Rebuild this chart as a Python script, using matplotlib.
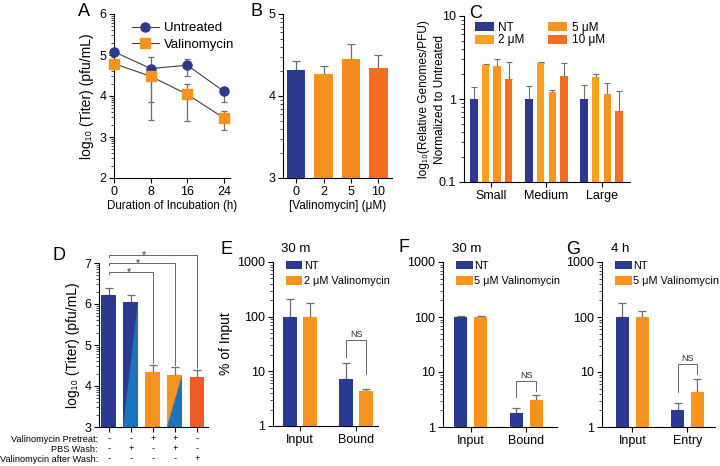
import numpy as np
import matplotlib
matplotlib.use("Agg")
import matplotlib.pyplot as plt
from matplotlib.patches import Polygon
from matplotlib.lines import Line2D
from matplotlib.ticker import FixedLocator, FuncFormatter, LogLocator, NullFormatter

plt.rcParams['font.family'] = ['Liberation Sans', 'DejaVu Sans']
plt.rcParams['axes.linewidth'] = 0.8
plt.rcParams['xtick.major.width'] = 0.8
plt.rcParams['ytick.major.width'] = 0.8
plt.rcParams['xtick.direction'] = 'out'
plt.rcParams['ytick.direction'] = 'out'

# ---------------- data ----------------
# Panel A
time_h = [0, 8, 16, 24]
untreated = [5.08, 4.67, 4.75, 4.11]
untreated_err_lo = [0.05, 0.82, 0.25, 0.26]
untreated_err_hi = [0.05, 0.29, 0.15, 0.12]
valino = [4.79, 4.48, 4.04, 3.46]
valino_err_lo = [0.05, 1.06, 0.64, 0.29]
valino_err_hi = [0.05, 0.0, 0.25, 0.17]

# Panel B
b_labels = ['0', '2', '5', '10']
b_titer = [4.32, 4.27, 4.45, 4.34]
b_err = [0.11, 0.09, 0.18, 0.16]

# Panel C
c_groups = ['Small', 'Medium', 'Large']
c_series = ['NT', '2 \u03bcM', '5 \u03bcM', '10 \u03bcM']
c_nt = [1.0, 1.0, 1.0]
c_2 = [2.60, 2.73, 1.84]
c_5 = [2.48, 1.20, 1.16]
c_10 = [1.75, 1.91, 0.71]
c_nt_err = [0.41, 0.43, 0.48]
c_2_err = [0.05, 0.03, 0.16]
c_5_err = [0.57, 0.09, 0.39]
c_10_err = [1.05, 0.79, 0.54]

# Panel D
d_titer = [6.21, 6.05, 4.33, 4.28, 4.23]
d_err = [0.17, 0.16, 0.18, 0.19, 0.17]
d_rows = ['Valinomycin Pretreat:', 'PBS Wash:', 'Valinomycin after Wash:']
d_pretreat = ['-', '-', '+', '+', '-']
d_pbs = ['-', '+', '-', '+', '-']
d_after = ['-', '-', '-', '-', '+']
d_sig_targets = [2, 3, 4]
d_sig_heights = [6.78, 7.0, 7.2]

# Panel E
e_cats = ['Input', 'Bound']
e_nt = [100, 7.2]
e_nt_err = [112, 6.8]
e_val = [100, 4.3]
e_val_err = [77, 0.4]

# Panel F
f_cats = ['Input', 'Bound']
f_nt = [100, 1.8]
f_nt_err = [4, 0.4]
f_val = [100, 3.05]
f_val_err = [4, 0.7]

# Panel G
g_cats = ['Input', 'Entry']
g_nt = [100, 2.07]
g_nt_err = [80, 0.68]
g_val = [100, 4.3]
g_val_err = [30, 3.3]

NAVY = '#2B3990'
ORANGE = '#F7941D'
ORANGE5 = '#F68A20'
ORANGE10 = '#F26F22'
YORANGE = '#FAA21B'
LBLUE = '#1C75BC'
RED = '#F15A29'
ERRC = '#6D6E71'

W, H = 720, 466
fig = plt.figure(figsize=(W / 100, H / 100), dpi=100)


def ax_px(l, t, r, b):
    return fig.add_axes([l / W, 1 - b / H, (r - l) / W, (b - t) / H])


def style(ax):
    ax.spines['top'].set_visible(False)
    ax.spines['right'].set_visible(False)
    ax.tick_params(length=3.5, width=0.8, labelsize=9, pad=2)


def log_minor(ax, lo, hi):
    mins = [n + np.log10(k) for n in range(lo, hi) for k in range(2, 10)]
    ax.yaxis.set_minor_locator(FixedLocator(mins))
    ax.tick_params(axis='y', which='minor', length=2, width=0.5)


def panel_label(x, y, s):
    fig.text(x / W, 1 - y / H, s, fontsize=13, va='center', ha='left')


# ---------------- Panel A ----------------
axA = ax_px(114, 14, 230, 178)
style(axA)
axA.errorbar(time_h, untreated, yerr=[untreated_err_lo, untreated_err_hi], color='#404040',
             lw=0.8, ecolor=ERRC, elinewidth=0.9, capsize=2.5, capthick=0.9,
             marker='o', ms=6.5, mfc=NAVY, mec=NAVY, clip_on=False, zorder=3)
axA.errorbar(time_h, valino, yerr=[valino_err_lo, valino_err_hi], color='#404040',
             lw=0.8, ecolor=ERRC, elinewidth=0.9, capsize=2.5, capthick=0.9,
             marker='s', ms=6.5, mfc=ORANGE, mec=ORANGE, clip_on=False, zorder=3)
axA.set_xlim(0, 25.3)
axA.set_ylim(2, 6)
axA.set_xticks(time_h)
axA.set_yticks([2, 3, 4, 5, 6])
log_minor(axA, 2, 6)
axA.set_xlabel('Duration of Incubation (h)', fontsize=8.3, labelpad=2)
axA.set_ylabel('log\u2081\u2080 (Titer) (pfu/mL)', fontsize=10, labelpad=4)
hA = [Line2D([], [], color='#404040', lw=0.8, marker='o', ms=6.5, mfc=NAVY, mec=NAVY),
      Line2D([], [], color='#404040', lw=0.8, marker='s', ms=6.5, mfc=ORANGE, mec=ORANGE)]
axA.legend(hA, ['Untreated', 'Valinomycin'], loc='upper left', bbox_to_anchor=(0.1, 0.99),
           frameon=False, fontsize=9.5, handlelength=2.0, handletextpad=0.4, labelspacing=0.3,
           borderpad=0.0)

# ---------------- Panel B ----------------
axB = ax_px(283, 14, 392, 178)
style(axB)
xb = np.arange(len(b_labels))
colsB = [NAVY, ORANGE, ORANGE5, ORANGE10]
axB.bar(xb, np.array(b_titer) - 3, bottom=3, width=0.68, color=colsB, zorder=2)
axB.errorbar(xb, b_titer, yerr=[np.zeros(4), b_err], fmt='none', ecolor=ERRC,
             elinewidth=0.9, capsize=3, capthick=0.9, zorder=1)
axB.set_xlim(-0.48, 3.5)
axB.set_ylim(3, 5)
axB.set_yticks([3, 4, 5])
log_minor(axB, 3, 5)
axB.set_xticks(xb)
axB.set_xticklabels(b_labels)
axB.set_xlabel('[Valinomycin] (\u03bcM)', fontsize=8.5, labelpad=2)

# ---------------- Panel C ----------------
axC = ax_px(464, 16, 630, 182)
style(axC)
axC.set_yscale('log')
offsets = np.array([0, 4.75, 9.5])
c_vals = [c_nt, c_2, c_5, c_10]
c_errs = [c_nt_err, c_2_err, c_5_err, c_10_err]
colsC = [NAVY, YORANGE, ORANGE, ORANGE10]
for i in range(4):
    xs = offsets + i
    axC.bar(xs, np.array(c_vals[i]) - 0.1, bottom=0.1, width=0.64, color=colsC[i],
            label=c_series[i], zorder=2)
    axC.errorbar(xs, c_vals[i], yerr=[np.zeros(3), c_errs[i]], fmt='none', ecolor=ERRC,
                 elinewidth=0.8, capsize=2, capthick=0.8, zorder=1)
axC.set_ylim(0.1, 10)
axC.set_xlim(-0.86, 13.45)
axC.set_xticks(offsets + 1.5)
axC.set_xticklabels(c_groups)
axC.yaxis.set_major_formatter(FuncFormatter(lambda v, p: '%g' % v))
axC.yaxis.set_minor_locator(LogLocator(base=10, subs=np.arange(2, 10)))
axC.yaxis.set_minor_formatter(NullFormatter())
axC.tick_params(axis='y', which='minor', length=2, width=0.5)
axC.set_ylabel('log\u2081\u2080(Relative Genomes/PFU)\nNormalized to Untreated', fontsize=8.6,
               linespacing=1.45)
axC.yaxis.set_label_coords(-0.11, 0.5)
axC.legend(loc='upper left', bbox_to_anchor=(0.03, 1.0), ncol=2, frameon=False, fontsize=8.5,
           handlelength=1.6, handleheight=0.8, handletextpad=0.4, labelspacing=0.05,
           columnspacing=2.0, borderpad=0.0)

# ---------------- Panel D ----------------
axD = ax_px(99, 263, 208, 427)
style(axD)
xd = np.arange(len(d_titer))
colsD = [NAVY, NAVY, ORANGE, ORANGE, RED]
wd = 0.68
axD.bar(xd, np.array(d_titer) - 3, bottom=3, width=wd, color=colsD, zorder=2)
for i in [1, 3]:
    tri = Polygon([[xd[i] - wd / 2, 3], [xd[i] + wd / 2, 3], [xd[i] + wd / 2, d_titer[i]]],
                  closed=True, facecolor=LBLUE, edgecolor='none', zorder=2.5)
    axD.add_patch(tri)
axD.errorbar(xd, d_titer, yerr=[np.zeros(5), d_err], fmt='none', ecolor=ERRC,
             elinewidth=0.9, capsize=3, capthick=0.9, zorder=1)
axD.set_xlim(-0.45, 4.5)
axD.set_ylim(3, 7)
axD.set_yticks([3, 4, 5, 6, 7])
log_minor(axD, 3, 7)
axD.set_xticks(xd)
axD.set_xticklabels([''] * 5)
axD.set_ylabel('log\u2081\u2080 (Titer) (pfu/mL)', fontsize=10, labelpad=3)
star_x = [0.9, 1.32, 1.6]
for t, h, sx in zip(d_sig_targets, d_sig_heights, star_x):
    top_err = d_titer[t] + d_err[t] + 0.05
    axD.plot([0, 0, t, t], [h - 0.06, h, h, top_err], color='#505050', lw=0.6, clip_on=False)
    axD.text(sx, h - 0.08, '*', fontsize=7.5, ha='center', va='baseline', color='#303030')
# condition table
row_y = [439, 449, 459]
rows = [d_pretreat, d_pbs, d_after]
for name, yy, vals in zip(d_rows, row_y, rows):
    fig.text(98 / W, 1 - yy / H, name, fontsize=6.6, ha='right', va='center')
    for i, v in enumerate(vals):
        xpix = axD.transData.transform((xd[i], 3))[0]
        fig.text(xpix / W, 1 - yy / H, v, fontsize=6.6, ha='center', va='center')


# ---------------- Panels E, F, G ----------------
def entry_panel(rect, cats, nt, nt_err, val, val_err, lab, title, xl, br):
    ax = ax_px(*rect)
    style(ax)
    ax.set_yscale('log')
    xc = np.arange(len(cats))
    off = 0.18
    ax.bar(xc - off, np.array(nt) - 1, bottom=1, width=0.24, color=NAVY, label='NT', zorder=2)
    ax.bar(xc + off, np.array(val) - 1, bottom=1, width=0.24, color=ORANGE, label=lab, zorder=2)
    ax.errorbar(xc - off, nt, yerr=[np.zeros(2), nt_err], fmt='none', ecolor=ERRC,
                elinewidth=0.9, capsize=3, capthick=0.9, zorder=1)
    ax.errorbar(xc + off, val, yerr=[np.zeros(2), val_err], fmt='none', ecolor=ERRC,
                elinewidth=0.9, capsize=3, capthick=0.9, zorder=1)
    ax.set_ylim(1, 1000)
    ax.set_xlim(*xl)
    ax.set_xticks(xc)
    ax.set_xticklabels(cats, fontsize=9)
    ax.yaxis.set_major_formatter(FuncFormatter(lambda v, p: '%d' % v))
    ax.yaxis.set_minor_locator(LogLocator(base=10, subs=np.arange(2, 10)))
    ax.yaxis.set_minor_formatter(NullFormatter())
    ax.tick_params(axis='y', which='minor', length=2, width=0.5)
    # NS bracket
    b_lo_l, b_lo_r, b_top = br
    ax.plot([1 - off, 1 - off, 1 + off, 1 + off], [b_lo_l, b_top, b_top, b_lo_r],
            color='#505050', lw=0.6)
    ax.text(1, b_top * 1.03, 'NS', fontsize=6.5, ha='center', va='bottom', color='#303030')
    ax.text(0.08, 1.08, title, transform=ax.transAxes, fontsize=9.5, ha='left', va='center')
    ax.legend(loc='upper left', bbox_to_anchor=(0.07, 1.04), frameon=False, fontsize=7.8,
              handlelength=1.5, handleheight=0.8, handletextpad=0.15, labelspacing=0.5,
              borderpad=0.0)
    return ax


axE = entry_panel((273, 262, 378, 426), e_cats, e_nt, e_nt_err, e_val, e_val_err,
                  '2 \u03bcM Valinomycin', '30 m', (-0.48, 1.39), (18.5, 8.8, 37.8))
axE.set_ylabel('% of Input', fontsize=10, labelpad=3)
axF = entry_panel((443, 262, 557, 427), f_cats, f_nt, f_nt_err, f_val, f_val_err,
                  '5 \u03bcM Valinomycin', '30 m', (-0.5, 1.55), (3.5, 4.6, 7.0))
axG = entry_panel((602, 262, 715, 427), g_cats, g_nt, g_nt_err, g_val, g_val_err,
                  '5 \u03bcM Valinomycin', '4 h', (-0.55, 1.5), (4.3, 9.1, 14.1))

panel_label(78, 12, 'A')
panel_label(251, 12, 'B')
panel_label(469, 14, 'C')
panel_label(53, 255, 'D')
panel_label(221, 250, 'E')
panel_label(398, 248, 'F')
panel_label(566, 249, 'G')

fig.savefig('out.png', dpi=100)
